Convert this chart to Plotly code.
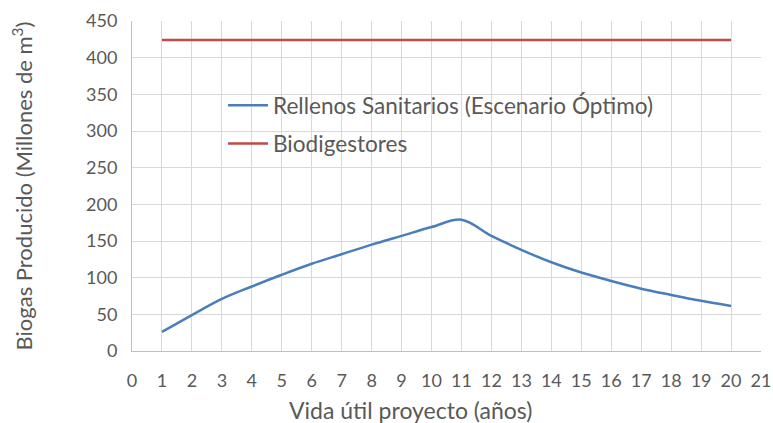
import plotly.graph_objects as go

years = list(range(1, 21))
rellenos = [26, 49, 71, 88, 104, 119, 132, 145, 157, 169, 179, 157, 138, 121, 107, 95.5, 85, 76.5, 68.5, 61.5]
biodigestores = [424] * 20

x_ticks = list(range(0, 22))
y_ticks = list(range(0, 451, 50))

x_title = "Vida útil proyecto (años)"
y_title = "Biogas Producido (Millones de m<sup>3</sup>)"

font = "Lato"
txt = "#595959"
grid = "#d9d9d9"

fig = go.Figure()
fig.add_trace(go.Scatter(x=years, y=rellenos, mode="lines",
                         name="Rellenos Sanitarios (Escenario Óptimo)",
                         line=dict(color="#4a7ebb", width=2.5, shape="spline", smoothing=1.0),
                         legendgroup="a"))
fig.add_trace(go.Scatter(x=years, y=biodigestores, mode="lines",
                         name="Biodigestores",
                         line=dict(color="#be4b48", width=2.5),
                         legendgroup="b"))

W, H = 773, 423
ml, mr, mt, mb = 132, 773 - 761, 21, 423 - 351
pw, ph = W - ml - mr, H - mt - mb

def px_x(p):
    return (p - ml) / pw

def px_y(p):
    return (H - mb - p) / ph

fig.add_shape(type="rect", xref="paper", yref="paper",
              x0=px_x(195), x1=px_x(685), y0=px_y(166), y1=px_y(83),
              fillcolor="white", line=dict(width=0), layer="between")

# x-axis title (offset left of the plot centre, as in the reference)
fig.add_annotation(text=x_title, xref="paper", yref="paper",
                   x=px_x(410), y=px_y(410), xanchor="center", yanchor="middle",
                   showarrow=False, font=dict(size=23, color=txt, family=font))

fig.update_layout(
    template="none",
    width=W, height=H,
    margin=dict(l=ml, r=mr, t=mt, b=mb, autoexpand=False),
    paper_bgcolor="white", plot_bgcolor="white",
    font=dict(family=font, color=txt),
    showlegend=True,
    legend=dict(x=px_x(223), y=px_y(84), xanchor="left", yanchor="top",
                bgcolor="rgba(0,0,0,0)", borderwidth=0, font=dict(size=22.6, color=txt),
                tracegroupgap=6, traceorder="grouped", itemwidth=40),
)
fig.update_xaxes(range=[0, 21], tickvals=x_ticks, ticktext=[str(v) for v in x_ticks],
                 automargin=False,
                 showgrid=True, gridcolor=grid, gridwidth=1,
                 showline=True, linecolor="#bfbfbf", linewidth=1,
                 zeroline=False, ticks="", ticklabelstandoff=13,
                 tickfont=dict(size=18, color=txt))
fig.update_yaxes(range=[0, 450], tickvals=y_ticks,
                 automargin=False,
                 showgrid=True, gridcolor=grid, gridwidth=1,
                 showline=True, linecolor="#bfbfbf", linewidth=1,
                 zeroline=False, ticks="", ticklabelstandoff=10,
                 tickfont=dict(size=18, color=txt),
                 title=dict(text=y_title, font=dict(size=22, color=txt), standoff=47))

fig.write_html("out.html", config={"displayModeBar": False},
               post_script="document.body.style.margin='0';")
